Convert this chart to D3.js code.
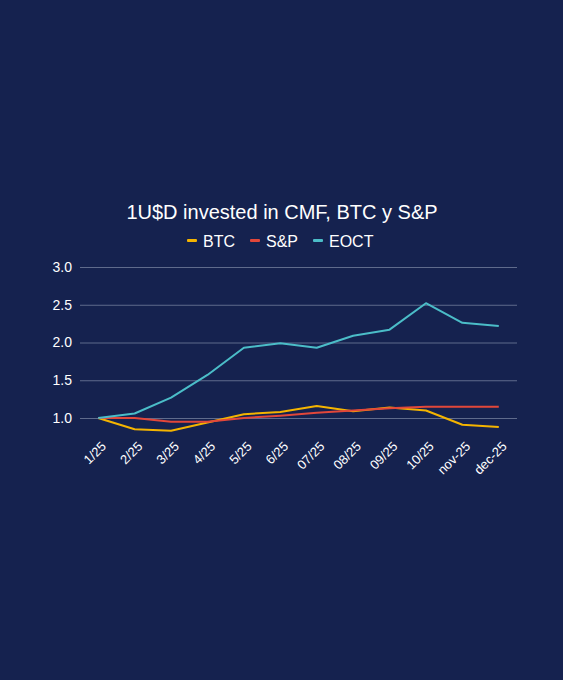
<!DOCTYPE html>
<html>
<head>
<meta charset="utf-8">
<script src="https://cdn.jsdelivr.net/npm/d3@7"></script>
<style>
  html, body { margin: 0; padding: 0; background: #15224f; }
  svg { display: block; font-family: "Liberation Sans", Arial, sans-serif; }
</style>
</head>
<body>
<div id="chart"></div>
<script>
// Chart data
const months = ["1/25", "2/25", "3/25", "4/25", "5/25", "6/25", "07/25", "08/25", "09/25", "10/25", "nov-25", "dec-25"];
const btc  = [1.00, 0.85, 0.83, 0.94, 1.05, 1.08, 1.16, 1.09, 1.14, 1.10, 0.91, 0.88];
const sp   = [1.00, 1.00, 0.95, 0.95, 1.00, 1.03, 1.07, 1.10, 1.13, 1.15, 1.15, 1.15];
const eoct = [1.00, 1.06, 1.27, 1.57, 1.93, 1.99, 1.93, 2.09, 2.17, 2.52, 2.26, 2.22];
const seriesNames = ["BTC", "S&P", "EOCT"];
const yTicks = [1.0, 1.5, 2.0, 2.5, 3.0];

const series = [
    { name: seriesNames[0], values: btc,  color: "#f4b400" },
    { name: seriesNames[1], values: sp,   color: "#e2473a" },
    { name: seriesNames[2], values: eoct, color: "#4bbdc8" }
];

const width = 563, height = 680;
const margin = { left: 80, right: 46, top: 267 };

const svg = d3.select("#chart")
    .append("svg")
    .attr("width", width)
    .attr("height", height);

svg.append("rect")
    .attr("width", width)
    .attr("height", height)
    .attr("fill", "#15224f");

const xScale = d3.scalePoint()
    .domain(months)
    .range([margin.left, width - margin.right])
    .padding(0.5);

// 0.5 units ~ 37.7px, 3.0 at top
const yScale = d3.scaleLinear()
    .domain([1.0, 3.0])
    .range([418, margin.top]);

// Gridlines + y labels
const yAxis = svg.append("g")
    .attr("transform", `translate(${margin.left},0)`)
    .call(d3.axisLeft(yScale)
        .tickValues(yTicks)
        .tickFormat(d3.format(".1f"))
        .tickSize(-(width - margin.left - margin.right))
        .tickPadding(8));
yAxis.select(".domain").remove();
yAxis.selectAll(".tick line")
    .attr("stroke", "#5f6b8c")
    .attr("stroke-width", 1);
yAxis.selectAll(".tick text")
    .attr("fill", "#ffffff")
    .attr("font-size", 14);

// X labels
const xAxis = svg.append("g")
    .attr("transform", "translate(0,435)")
    .call(d3.axisBottom(xScale).tickSize(0).tickPadding(0));
xAxis.select(".domain").remove();
xAxis.selectAll(".tick text")
    .attr("fill", "#ffffff")
    .attr("font-size", 13)
    .attr("text-anchor", "end")
    .attr("dy", "0.35em")
    .attr("transform", "translate(5,9) rotate(-45)");

// Lines
const line = d3.line()
    .x((d, i) => xScale(months[i]))
    .y(d => yScale(d));

svg.selectAll(".series")
    .data(series)
    .join("path")
    .attr("class", "series")
    .attr("fill", "none")
    .attr("stroke", d => d.color)
    .attr("stroke-width", 2)
    .attr("stroke-linejoin", "round")
    .attr("d", d => line(d.values));

// Title
svg.append("text")
    .attr("x", 282)
    .attr("y", 219)
    .attr("text-anchor", "middle")
    .attr("fill", "#ffffff")
    .attr("font-size", 20)
    .text("1U$D invested in CMF, BTC y S&P");

// Legend
const legendX = [187, 250, 313];
const legend = svg.selectAll(".legend")
    .data(series)
    .join("g")
    .attr("class", "legend")
    .attr("transform", (d, i) => `translate(${legendX[i]},241)`);
legend.append("rect")
    .attr("x", 0)
    .attr("y", -2)
    .attr("width", 10)
    .attr("height", 3)
    .attr("rx", 1)
    .attr("fill", d => d.color);
legend.append("text")
    .attr("x", 16)
    .attr("y", 6)
    .attr("fill", "#ffffff")
    .attr("font-size", 16)
    .text(d => d.name);
</script>
</body>
</html>
